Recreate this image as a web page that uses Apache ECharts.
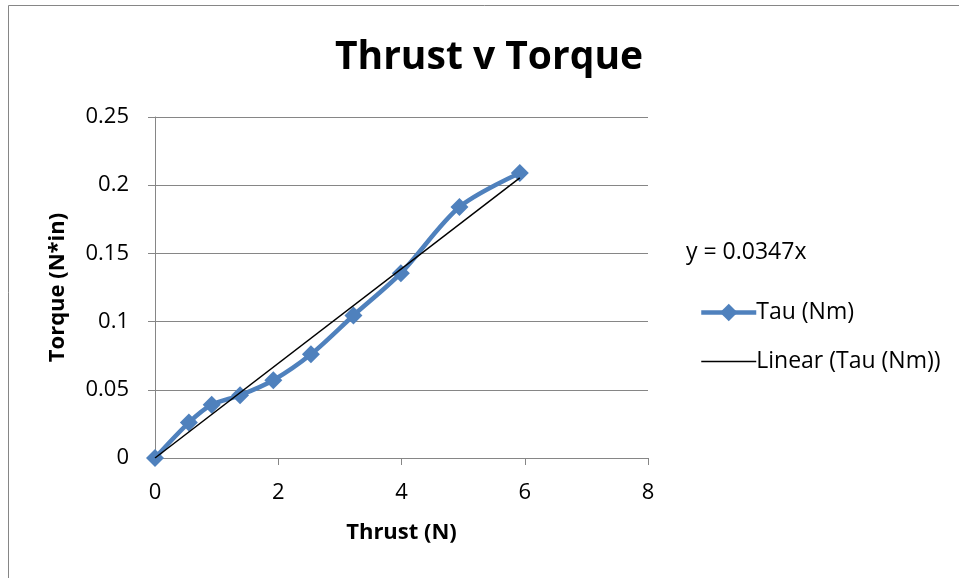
<!DOCTYPE html>
<html><head><meta charset="utf-8">
<script src="https://cdn.jsdelivr.net/npm/echarts@6/dist/echarts.min.js"></script>
<style>html,body{margin:0;padding:0;background:#fff}#c{width:959px;height:578px}</style>
</head><body><div id="c"></div>
<script>
const thrust = [0, 0.55, 0.92, 1.38, 1.92, 2.53, 3.22, 3.99, 4.94, 5.92];
const tau = [0, 0.026, 0.039, 0.046, 0.057, 0.076, 0.1045, 0.1355, 0.184, 0.209];
const slope = 0.0347;
const xTicks = [0, 2, 4, 6, 8];
const yTicks = [0, 0.05, 0.1, 0.15, 0.2, 0.25];

const FONT = '"Open Sans", "Noto Sans", sans-serif';
const chart = echarts.init(document.getElementById('c'), null, {renderer: 'canvas'});
const trendX = [thrust[0], thrust[thrust.length - 1]];
chart.setOption({
  animation: false,
  textStyle: {fontFamily: FONT},
  title: {
    text: 'Thrust v Torque', left: 484, top: 33, textAlign: 'center',
    textStyle: {fontSize: 39, fontWeight: 'bold', color: '#000', fontFamily: FONT}
  },
  graphic: [
    {type: 'rect', shape: {x: 8.5, y: 5.5, width: 1000, height: 1000}, style: {fill: 'none', stroke: '#868686', lineWidth: 1}, z: -1},
    {type: 'text', left: 686, top: 241, style: {text: 'y = 0.0347x', fontSize: 23, fill: '#000', fontFamily: FONT}}
  ],
  legend: {
    orient: 'vertical', left: 694, top: 296, itemGap: 26, itemWidth: 55, itemHeight: 22,
    textStyle: {fontSize: 23, color: '#000', fontFamily: FONT, padding: [0, 0, 0, -5]},
    data: [
      {name: 'Tau (Nm)', lineStyle: {width: 4.5}},
      {name: 'Linear (Tau (Nm))', itemStyle: {opacity: 0}, lineStyle: {width: 1.5}}
    ]
  },
  grid: {left: 155, top: 117, right: 311, bottom: 120},
  xAxis: {
    type: 'value', min: 0, max: 8, interval: 2,
    name: 'Thrust (N)', nameLocation: 'middle', nameGap: 64,
    nameTextStyle: {fontSize: 22, fontWeight: 'bold', color: '#000'},
    axisLine: {show: true, lineStyle: {color: '#868686', width: 1}},
    axisTick: {show: true, inside: false, length: 7, lineStyle: {color: '#868686'}},
    axisLabel: {fontSize: 22, color: '#000', margin: 24, formatter: v => xTicks.includes(v) ? String(v) : ''},
    splitLine: {show: false}
  },
  yAxis: {
    type: 'value', min: 0, max: 0.25, interval: 0.05,
    name: 'Torque (N*in)', nameLocation: 'middle', nameGap: 86, nameRotate: 90,
    nameTextStyle: {fontSize: 22, fontWeight: 'bold', color: '#000'},
    axisLine: {show: true, lineStyle: {color: '#868686', width: 1}},
    axisTick: {show: true, inside: false, length: 7, lineStyle: {color: '#868686'}},
    axisLabel: {fontSize: 22, color: '#000', margin: 26, formatter: v => {
      const t = yTicks.find(y => Math.abs(y - v) < 1e-9); return t === undefined ? '' : String(t);
    }},
    splitLine: {show: true, lineStyle: {color: '#868686', width: 1}}
  },
  series: [
    {
      name: 'Tau (Nm)', type: 'line', smooth: 0.3,
      data: thrust.map((x, i) => [x, tau[i]]),
      symbol: 'diamond', symbolSize: 18,
      lineStyle: {color: '#4F81BD', width: 4.5},
      itemStyle: {color: '#4F81BD'}, z: 2
    },
    {
      name: 'Linear (Tau (Nm))', type: 'line',
      data: trendX.map(x => [x, slope * x]),
      symbol: 'none', lineStyle: {color: '#000', width: 1.5},
      itemStyle: {color: '#000'}, z: 3
    }
  ]
});
</script></body></html>
